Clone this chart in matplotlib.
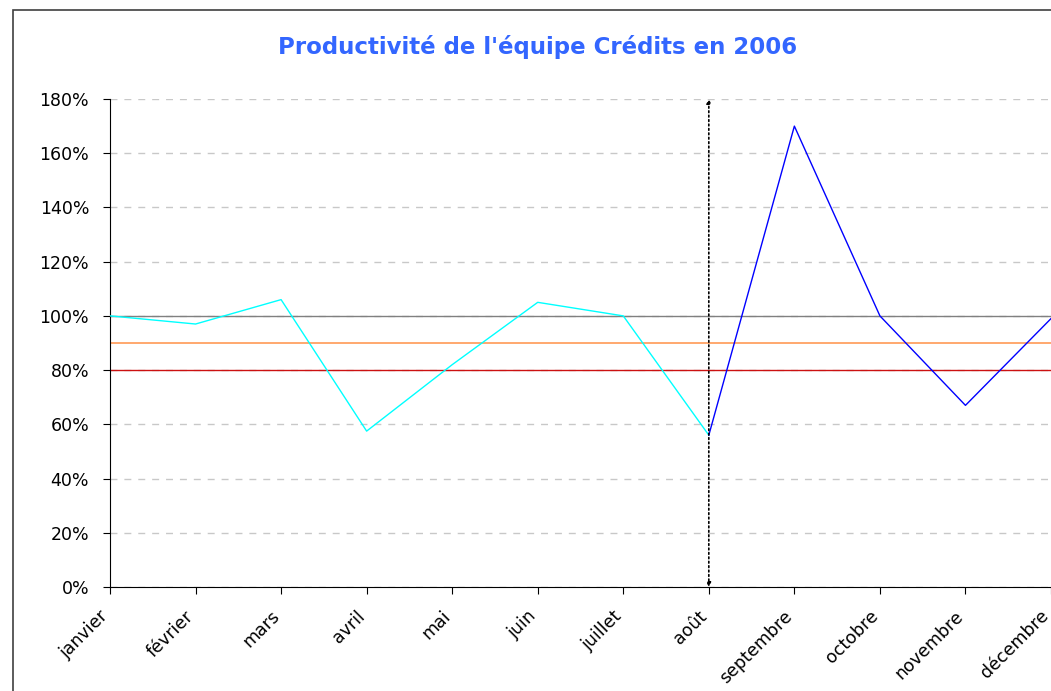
import matplotlib.pyplot as plt
from matplotlib.patches import Rectangle
from matplotlib.ticker import FuncFormatter
from matplotlib.transforms import ScaledTranslation

months = ["janvier", "février", "mars", "avril", "mai", "juin", "juillet",
          "août", "septembre", "octobre", "novembre", "décembre"]
# realised productivity (fraction), first part of year then second part
prod_h1 = [1.00, 0.97, 1.06, 0.575, 0.82, 1.05, 1.00, 0.56]
prod_h2 = [0.56, 1.70, 1.00, 0.67, 0.99]
target = 1.00
threshold_high = 0.90
threshold_low = 0.80
split_month = 7  # août

fig = plt.figure(figsize=(10.51, 6.91), dpi=100)
ax = fig.add_axes([110 / 1051, 1 - 587 / 691, 1 - 110 / 1051, (587 - 99) / 691])

# outer chart frame (cut on right and bottom like the original)
fig.patches.append(Rectangle((13 / 1051, -0.1), 1.1, 1.1 - 10 / 691,
                             transform=fig.transFigure, fill=False,
                             edgecolor="#404040", linewidth=1.2))

x1 = list(range(len(prod_h1)))
x2 = list(range(split_month, split_month + len(prod_h2)))

ax.axhline(target, color="#808080", linewidth=1, zorder=2)
ax.axhline(threshold_high, color="#FF9955", linewidth=1.2, zorder=2)
ax.axhline(threshold_low, color="#CC1111", linewidth=1, zorder=2)

ax.plot(x1, prod_h1, color="#00FFFF", linewidth=1, zorder=3)
ax.plot(x2, prod_h2, color="#0000FF", linewidth=1, zorder=3)

ax.annotate("", xy=(split_month, 1.80), xytext=(split_month, 0.0),
            arrowprops=dict(arrowstyle="<|-|>", linestyle=":", color="black",
                            linewidth=1.2, mutation_scale=6,
                            shrinkA=0, shrinkB=0), zorder=4)

ax.set_xlim(0, len(months) - 1)
ax.set_ylim(0, 1.8)
ax.set_yticks([i * 0.2 for i in range(10)])
ax.yaxis.set_major_formatter(FuncFormatter(lambda v, p: f"{v * 100:.0f}%"))
ax.set_xticks(range(len(months)))
ax.set_xticklabels(months, rotation=45, ha="right", rotation_mode="anchor")
ax.tick_params(axis="both", labelsize=12.5, length=5, color="black")
ax.tick_params(axis="y", pad=10)
ax.tick_params(axis="x", pad=8)
shift = ScaledTranslation(-11 / 100, -2 / 100, fig.dpi_scale_trans)
for lbl in ax.get_xticklabels():
    lbl.set_transform(lbl.get_transform() + shift)

ax.grid(axis="y", linestyle=(0, (5, 5)), color="#C8C8C8", linewidth=1)
ax.set_axisbelow(True)
ax.spines["top"].set_visible(False)
ax.spines["right"].set_visible(False)

fig.text(538 / 1051, 1 - 47 / 691, "Productivité de l'équipe Crédits en 2006",
         ha="center", va="center", fontsize=16.5, fontweight="bold",
         color="#3366FF")

fig.savefig("out.png", dpi=100)
